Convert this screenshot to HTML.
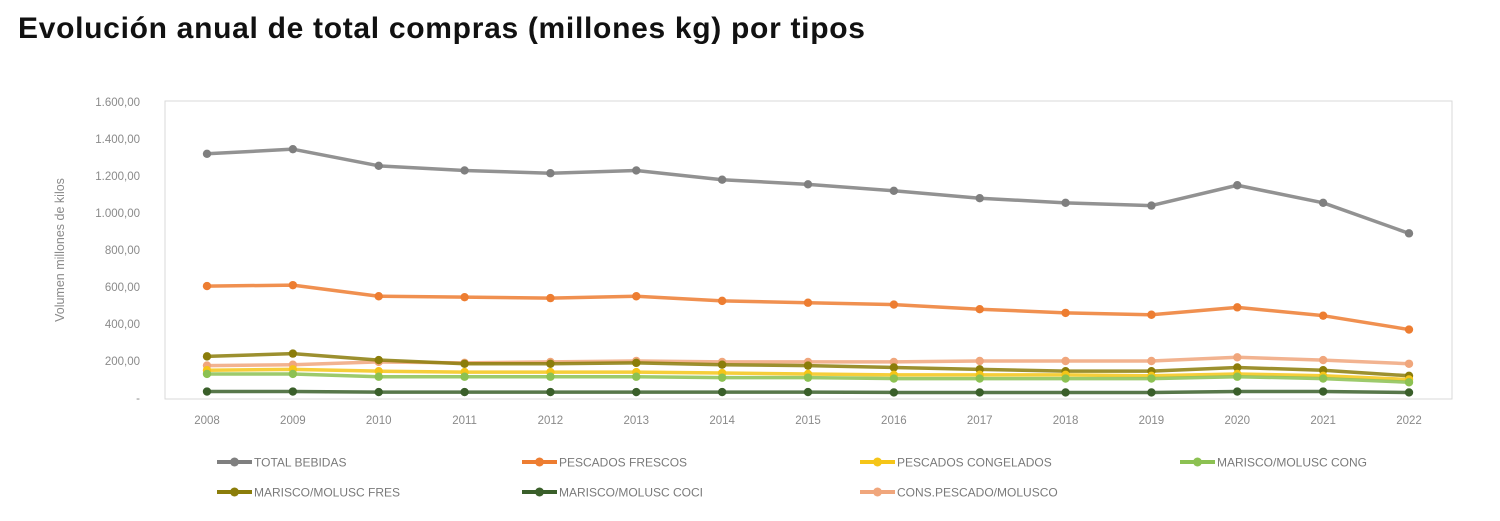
<!DOCTYPE html>
<html><head><meta charset="utf-8"><style>
html,body{margin:0;padding:0;background:#fff;}
body{width:1500px;height:521px;overflow:hidden;position:relative;font-family:"Liberation Sans",sans-serif;}
#title{position:absolute;left:18px;top:12px;font-size:30px;font-weight:bold;color:#111;margin:0;letter-spacing:0.7px;}
svg{position:absolute;left:0;top:0;}
</style></head><body>
<h1 id="title">Evolución anual de total compras (millones kg) por tipos</h1>
<svg id="chart" width="1500" height="521"></svg>
<script>
const years=["2008","2009","2010","2011","2012","2013","2014","2015","2016","2017","2018","2019","2020","2021","2022"];
const yTicks=[0,200,400,600,800,1000,1200,1400,1600];
const yTickLabels=["-","200,00","400,00","600,00","800,00","1.000,00","1.200,00","1.400,00","1.600,00"];
const totalBebidas=[1320,1345,1255,1230,1215,1230,1180,1155,1120,1080,1055,1040,1150,1055,890];
const pescadosFrescos=[605,610,550,545,540,550,525,515,505,480,460,450,490,445,370];
const pescadosCongelados=[150,155,145,140,140,140,135,130,125,125,125,120,130,120,100];
const mariscoCong=[130,130,115,115,115,115,110,110,105,105,105,105,115,105,85];
const mariscoFres=[225,240,205,185,185,190,180,175,165,155,145,145,165,150,120];
const mariscoCoci=[35,35,32,32,32,32,32,32,30,30,30,30,35,35,30];
const consPescado=[175,180,195,190,195,200,195,195,195,200,200,200,220,205,185];
const seriesNames=["TOTAL BEBIDAS","PESCADOS FRESCOS","PESCADOS CONGELADOS","MARISCO/MOLUSC CONG","MARISCO/MOLUSC FRES","MARISCO/MOLUSC COCI","CONS.PESCADO/MOLUSCO"];
const seriesData=[totalBebidas,pescadosFrescos,pescadosCongelados,mariscoCong,mariscoFres,mariscoCoci,consPescado];
const colors=["#7f7f7f","#ed7d31","#f5c518","#8cc152","#8b7d0a","#3a5f2a","#f0a67c"];
const drawOrder=[0,1,6,4,2,3,5];
const ns="http://www.w3.org/2000/svg";
const svg=document.getElementById('chart');
const x0=207,x1=1409,yBase=398,yTop=102,yMax=1600;
function xs(i){return x0+(x1-x0)*i/(years.length-1);}
function ys(v){return yBase-(yBase-yTop)*v/yMax;}
function el(t,a,p){const e=document.createElementNS(ns,t);for(const k in a)e.setAttribute(k,a[k]);(p||svg).appendChild(e);return e;}
const frame=el('rect',{x:165,y:101,width:1287,height:298,fill:'none',stroke:'#d9d9d9','stroke-width':1});


yTicks.forEach((v,i)=>{const t=el('text',{x:140,y:ys(v)+4,'text-anchor':'end','font-size':11.5,fill:'#8a8a8a','font-family':'Liberation Sans, sans-serif'});t.textContent=yTickLabels[i];

});
years.forEach((y,i)=>{const t=el('text',{x:xs(i),y:424,'text-anchor':'middle','font-size':11.5,fill:'#8a8a8a','font-family':'Liberation Sans, sans-serif'});t.textContent=y;

});
const yt=el('text',{x:0,y:0,transform:'translate(64,250) rotate(-90)','text-anchor':'middle','font-size':12.5,fill:'#8a8a8a','font-family':'Liberation Sans, sans-serif'});
yt.textContent='Volumen millones de kilos';


drawOrder.forEach(s=>{const d=seriesData[s];const g=el('g',{});


el('polyline',{points:d.map((v,i)=>xs(i)+','+ys(v)).join(' '),fill:'none',stroke:colors[s],'stroke-width':3.5,'stroke-linejoin':'round',opacity:0.85},g);
d.forEach((v,i)=>{const c=el('circle',{cx:xs(i),cy:ys(v),r:4.2,fill:colors[s]},g);

});});
const legX=[217,522,860,1180],legY=[462,492];
seriesNames.forEach((n,s)=>{const lx=legX[s%4],ly=legY[Math.floor(s/4)];const g=el('g',{});


el('line',{x1:lx,y1:ly,x2:lx+35,y2:ly,stroke:colors[s],'stroke-width':4},g);
el('circle',{cx:lx+17.5,cy:ly,r:4.5,fill:colors[s]},g);
const t=el('text',{x:lx+37,y:ly+4.5,'font-size':12,fill:'#7a7a7a','font-family':'Liberation Sans, sans-serif'},g);t.textContent=n;});
</script>
</body></html>
